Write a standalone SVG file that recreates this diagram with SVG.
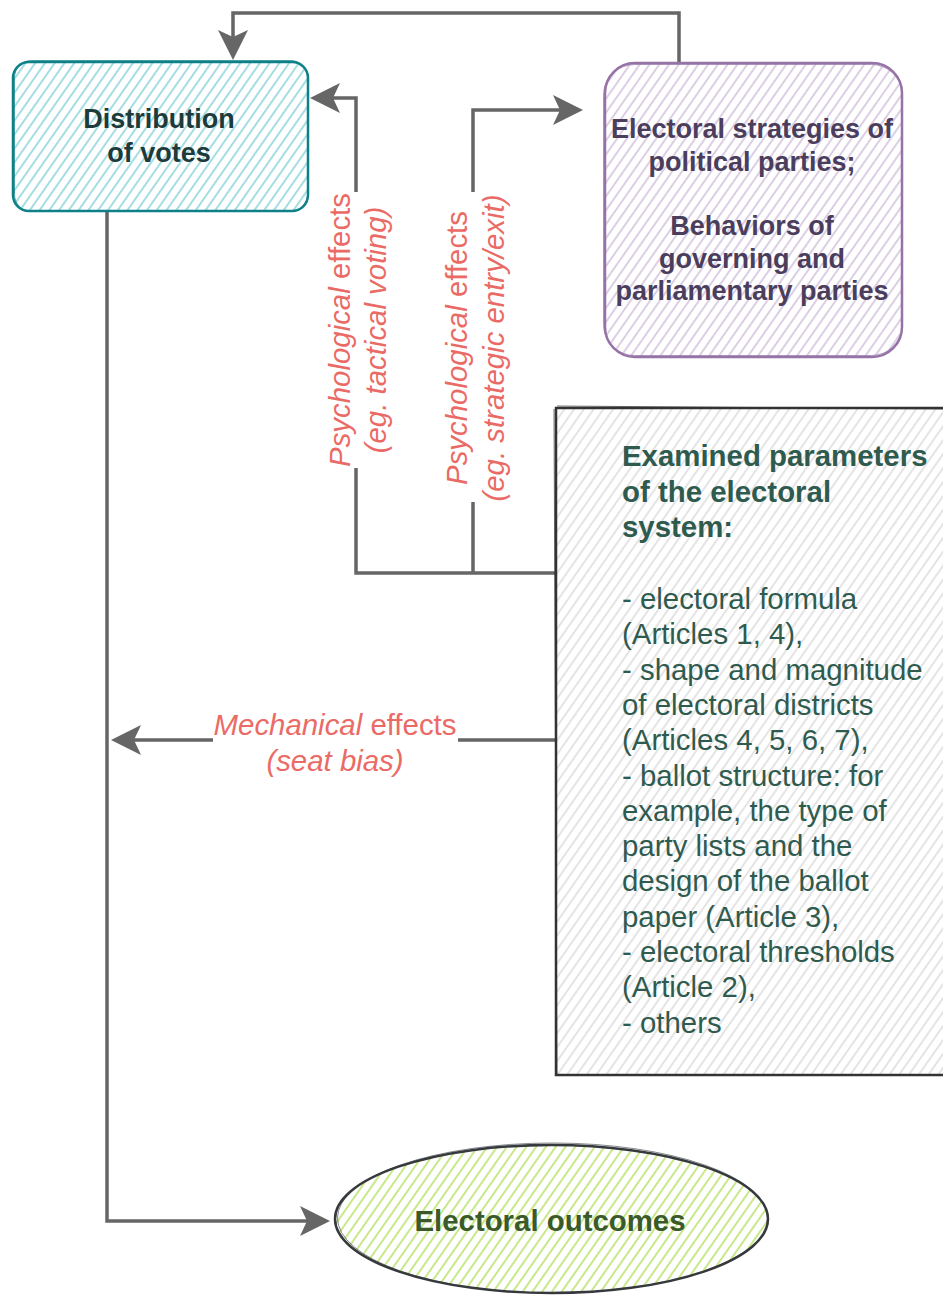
<svg xmlns="http://www.w3.org/2000/svg" width="943" height="1296" viewBox="0 0 943 1296">
<style>
.conn{fill:none;stroke:#666666;stroke-width:3.5;marker-end:url(#arr)}
.lbl{font-family:"Liberation Sans",Arial,sans-serif;font-size:29.4px;fill:#EA6B66}
.it{font-style:italic}
.b27{font-family:"Liberation Sans",Arial,sans-serif;font-size:27px;font-weight:bold}
.ex{font-family:"Liberation Sans",Arial,sans-serif;font-size:29.4px;fill:#2f5b4f}
</style>
<defs>
<pattern id="hTeal" width="8" height="8" patternUnits="userSpaceOnUse" patternTransform="rotate(35)"><line x1="1" y1="0" x2="1" y2="8" stroke="#a6dde1" stroke-width="2"/></pattern>
<pattern id="hPurple" width="8" height="8" patternUnits="userSpaceOnUse" patternTransform="rotate(35)"><line x1="1" y1="0" x2="1" y2="8" stroke="#dccfe4" stroke-width="2"/></pattern>
<pattern id="hGray" width="8" height="8" patternUnits="userSpaceOnUse" patternTransform="rotate(35)"><line x1="1" y1="0" x2="1" y2="8" stroke="#dddddd" stroke-width="1.6"/></pattern>
<pattern id="hGreen" width="8" height="8" patternUnits="userSpaceOnUse" patternTransform="rotate(35)"><line x1="1" y1="0" x2="1" y2="8" stroke="#c8e88a" stroke-width="2"/></pattern>
<marker id="arr" viewBox="0 0 30 30" refX="7" refY="15" markerWidth="30" markerHeight="30" markerUnits="userSpaceOnUse" orient="auto"><path d="M0,0 L30,15 L0,30 L7,15 Z" fill="#666666"/></marker>
</defs>
<rect width="943" height="1296" fill="#ffffff"/>

<g id="connectors">
<path class="conn" d="M679,62 L679,13 L233,13 L233,37"/>
<path class="conn" d="M556,573 L356,573 L356,468 M356,192 L356,98 L333,98"/>
<path class="conn" d="M473,573 L473,502 M473,192 L473,110 L560,110"/>
<path class="conn" d="M556,740 L458,740 M213,740 L134,740"/>
<path class="conn" d="M107,211 L107,1221 L307,1221"/>
<g class="lbl">
<g transform="translate(350,330) rotate(-90)">
<text x="0" y="0" text-anchor="middle"><tspan class="it">Psychological</tspan> effects</text>
<text x="0" y="36" text-anchor="middle" class="it">(eg. tactical voting)</text>
</g>
<g transform="translate(467,348) rotate(-90)">
<text x="0" y="0" text-anchor="middle"><tspan class="it">Psychological</tspan> effects</text>
<text x="0" y="37" text-anchor="middle" class="it">(eg. strategic entry/exit)</text>
</g>
<text x="335" y="735" text-anchor="middle"><tspan class="it">Mechanical</tspan> effects</text>
<text x="335" y="771" text-anchor="middle" class="it">(seat bias)</text>
</g>
</g>

<g id="distribution">
<rect x="13" y="62" width="295" height="149" rx="16" fill="url(#hTeal)" stroke="#0e8088" stroke-width="2.5"/>
<rect x="14.5" y="60.5" width="293" height="151" rx="17" fill="none" stroke="#0e8088" stroke-width="1" opacity="0.7"/>
<text class="b27" fill="#1d3b3b" text-anchor="middle"><tspan x="159" y="128">Distribution</tspan><tspan x="159" y="161.5">of votes</tspan></text>
</g>

<g id="strategies">
<rect x="605" y="63" width="297" height="294" rx="30" fill="url(#hPurple)" stroke="#9673a6" stroke-width="2.5"/>
<rect x="603.5" y="64.5" width="299" height="291" rx="31" fill="none" stroke="#9673a6" stroke-width="1" opacity="0.7"/>
<text class="b27" fill="#4b3e5c" text-anchor="middle"><tspan x="752" y="138">Electoral strategies of</tspan><tspan x="752" y="170.5">political parties;</tspan><tspan x="752" y="235">Behaviors of</tspan><tspan x="752" y="267.5">governing and</tspan><tspan x="752" y="300">parliamentary parties</tspan></text>
</g>

<g id="parameters">
<rect x="556" y="408" width="395" height="667" fill="url(#hGray)" stroke="#333333" stroke-width="2.5"/>
<path d="M557,406 L946,409 M554,409 L557,1076" fill="none" stroke="#333333" stroke-width="1" opacity="0.7"/>
<text class="ex" font-weight="bold"><tspan x="622" y="466">Examined parameters</tspan><tspan x="622" y="502">of the electoral</tspan><tspan x="622" y="537">system:</tspan></text>
<text class="ex"><tspan x="622" y="609">- electoral formula</tspan><tspan x="622" y="644.3">(Articles 1, 4),</tspan><tspan x="622" y="679.6">- shape and magnitude</tspan><tspan x="622" y="715">of electoral districts</tspan><tspan x="622" y="750.2">(Articles 4, 5, 6, 7),</tspan><tspan x="622" y="785.5">- ballot structure: for</tspan><tspan x="622" y="820.8">example, the type of</tspan><tspan x="622" y="856">party lists and the</tspan><tspan x="622" y="891.4">design of the ballot</tspan><tspan x="622" y="926.7">paper (Article 3),</tspan><tspan x="622" y="962">- electoral thresholds</tspan><tspan x="622" y="997.3">(Article 2),</tspan><tspan x="622" y="1032.6">- others</tspan></text>
</g>

<g id="outcomes">
<ellipse cx="551.5" cy="1219" rx="216.5" ry="74" fill="url(#hGreen)" stroke="#36393d" stroke-width="2.5"/>
<ellipse cx="552.5" cy="1218" rx="215" ry="75" fill="none" stroke="#36393d" stroke-width="1" opacity="0.6"/>
<text x="550" y="1231" text-anchor="middle" font-family="Liberation Sans, Arial, sans-serif" font-size="29.4" font-weight="bold" fill="#3a5a2a">Electoral outcomes</text>
</g>
</svg>
